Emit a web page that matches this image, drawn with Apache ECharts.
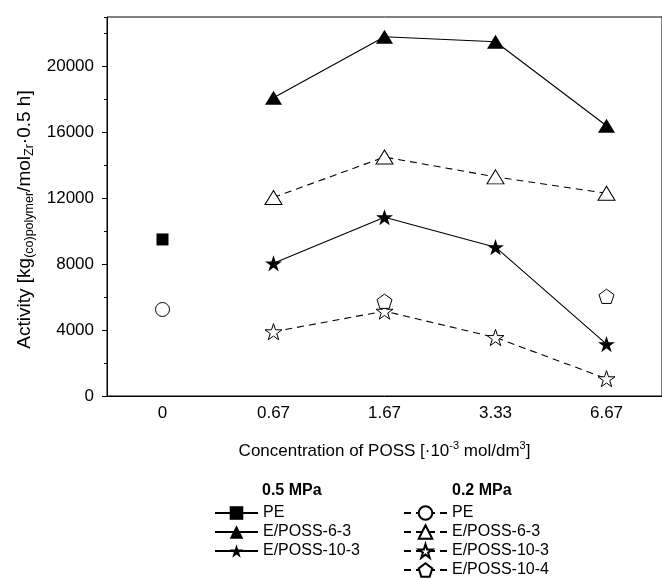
<!DOCTYPE html>
<html>
<head>
<meta charset="utf-8">
<script src="https://cdn.jsdelivr.net/npm/echarts@6/dist/echarts.min.js"></script>
<style>html,body{margin:0;padding:0;background:#fff}#c{width:662px;height:579px}</style>
</head>
<body>
<div id="c"></div>
<script>
// ---- data ----
const categories = ['0', '0.67', '1.67', '3.33', '6.67'];
const pe05 = [9500, '-', '-', '-', '-'];
const poss63_05 = ['-', 18100, 21800, 21500, 16400];
const poss103_05 = ['-', 8050, 10850, 9030, 3150];
const pe02 = [5250, '-', '-', '-', '-'];
const poss63_02 = ['-', 12050, 14500, 13300, 12300];
const poss103_02 = ['-', 3900, 5150, 3550, 1050];
const poss104_02 = ['-', '-', 5750, '-', 6050];
const yTicksMajor = 4000;
const yTicksMinor = 2000;
const yMax = 23000;

// ---- styling ----
const FONT = 'Liberation Sans, Arial, sans-serif';
const STAR = 'path://M100,0 L122.5,69.1 L195.1,69.1 L136.3,111.8 L158.8,180.9 L100,138.2 L41.2,180.9 L63.7,111.8 L4.9,69.1 L77.5,69.1 Z';
const PENT = 'path://M100,0 L195.1,69.1 L158.8,180.9 L41.2,180.9 L4.9,69.1 Z';
const solid = {color: '#000', width: 1.1, type: 'solid'};
const dashed = {color: '#000', width: 1.1, type: [7, 5]};
const filled = {color: '#000', borderColor: '#000', borderWidth: 0};
const open = {color: '#fff', borderColor: '#000', borderWidth: 1};

function mk(name, data, symbol, size, line, item) {
  return {
    name: name, type: 'line', data: data, symbol: symbol, symbolSize: size,
    symbolKeepAspect: true, showAllSymbol: true, connectNulls: false,
    lineStyle: line, itemStyle: item, animation: false,
    emphasis: {disabled: true}
  };
}

const legendBase = {
  orient: 'vertical', itemWidth: 43, itemHeight: 17, itemGap: 3, padding: 0, height: 100,
  formatter: n => n.split('|')[0],
  textStyle: {color: '#000', fontSize: 16, fontFamily: FONT},
  selectedMode: false
};

const chart = echarts.init(document.getElementById('c'), null, {renderer: 'canvas'});
chart.setOption({
  backgroundColor: '#fff',
  animation: false,
  grid: {left: 107, top: 17, right: -8, bottom: 183, show: true, borderColor: '#000', borderWidth: 1, containLabel: false},
  xAxis: [{
    type: 'category', data: categories, position: 'bottom', boundaryGap: true,
    axisLine: {lineStyle: {color: '#000', width: 1}},
    axisTick: {alignWithLabel: true, length: 5, lineStyle: {color: '#000'}},
    axisLabel: {color: '#000', fontSize: 17, fontFamily: FONT, margin: 9},
    splitLine: {show: false},
    name: '{m|Concentration of POSS [·10}{p|-3}{m| mol/dm}{p|3}{m|]}',
    nameLocation: 'middle', nameGap: 44,
    nameTextStyle: {
      color: '#000', fontFamily: FONT,
      rich: {
        m: {fontSize: 17, fontFamily: FONT, color: '#000', lineHeight: 22},
        p: {fontSize: 11, fontFamily: FONT, color: '#000', lineHeight: 11, verticalAlign: 'top'}
      }
    }
  }, {
    type: 'category', data: categories, position: 'bottom', boundaryGap: true, offset: 0,
    axisLine: {show: false},
    axisTick: {alignWithLabel: false, length: 3, lineStyle: {color: '#000'}},
    axisLabel: {show: false}, splitLine: {show: false}
  }],
  yAxis: [{
    type: 'value', min: 0, max: yMax, interval: yTicksMajor, position: 'left',
    axisLine: {show: true, lineStyle: {color: '#000', width: 1}},
    axisTick: {show: true, length: 5, lineStyle: {color: '#000'}},
    axisLabel: {color: '#000', fontSize: 17, fontFamily: FONT, margin: 13, showMaxLabel: false,
      formatter: v => String(v)},
    splitLine: {show: false},
    name: '{m|Activity [kg}{s|(co)polymer}{m|/mol}{s|Zr}{m|·0.5 h]}',
    nameLocation: 'middle', nameRotate: 90, nameGap: 68,
    nameTextStyle: {
      color: '#000', fontFamily: FONT, padding: [0, 26, 0, 0],
      rich: {
        m: {fontSize: 19, fontFamily: FONT, color: '#000', lineHeight: 22},
        s: {fontSize: 12.5, fontFamily: FONT, color: '#000', lineHeight: 12, verticalAlign: 'bottom'}
      }
    }
  }, {
    type: 'value', min: 0, max: yMax, interval: yTicksMinor, position: 'left', offset: 0,
    axisLine: {show: false},
    axisTick: {show: true, length: 3, lineStyle: {color: '#000'}},
    axisLabel: {show: false}, splitLine: {show: false}
  }],
  legend: [
    Object.assign({}, legendBase, {left: 214, top: 505, data: ['PE|a', 'E/POSS-6-3|a', 'E/POSS-10-3|a']}),
    Object.assign({}, legendBase, {left: 403, top: 505, data: ['PE|b', 'E/POSS-6-3|b', 'E/POSS-10-3|b', 'E/POSS-10-4|b']})
  ],
  graphic: [
    {type: 'text', left: 262, top: 483, style: {text: '0.5 MPa', fill: '#000', font: 'bold 16px ' + FONT}},
    {type: 'text', left: 452, top: 483, style: {text: '0.2 MPa', fill: '#000', font: 'bold 16px ' + FONT}}
  ],
  series: [
    mk('PE|a', pe05, 'rect', 12, solid, filled),
    mk('E/POSS-6-3|a', poss63_05, 'triangle', [17, 14], solid, filled),
    mk('E/POSS-10-3|a', poss103_05, STAR, 17, solid, filled),
    mk('PE|b', pe02, 'circle', 14, dashed, open),
    mk('E/POSS-6-3|b', poss63_02, 'triangle', [17, 14], dashed, open),
    mk('E/POSS-10-3|b', poss103_02, STAR, 17, dashed, open),
    mk('E/POSS-10-4|b', poss104_02, PENT, 15, dashed, open)
  ]
});
</script>
</body>
</html>
